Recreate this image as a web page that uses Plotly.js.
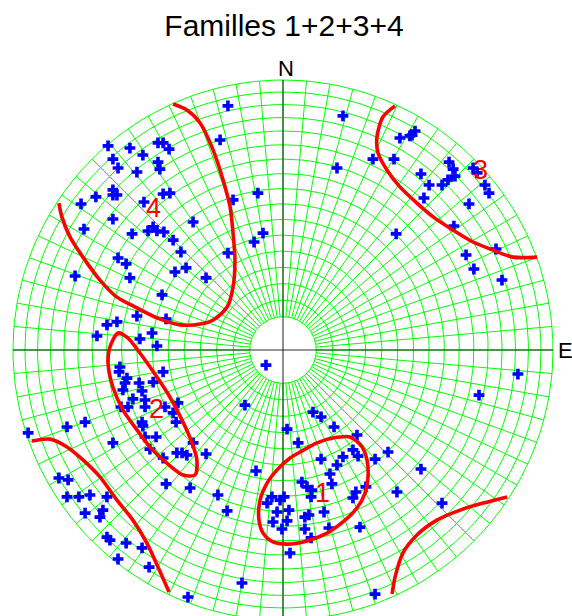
<!DOCTYPE html>
<html><head><meta charset="utf-8">
<script src="https://cdn.plot.ly/plotly-3.0.1.min.js"></script>
<style>html,body{margin:0;padding:0;background:#fff}#chart{width:572px;height:616px}</style>
</head><body><div id="chart"></div>
<script>
// Pole positions on the equal-area net (east, north), net radius = 1
const ptsX = [-0.204,-0.233,-0.093,-0.185,-0.074,-0.107,-0.204,-0.648,-0.567,-0.463,-0.444,-0.422,-0.630,-0.519,-0.463,-0.611,-0.456,-0.541,-0.630,-0.615,-0.630,-0.693,-0.748,-0.515,-0.444,-0.419,-0.333,-0.630,-0.737,-0.559,-0.5,-0.481,-0.467,-0.441,-0.407,-0.378,-0.611,-0.581,-0.770,-0.567,-0.359,-0.4,-0.285,-0.448,-0.541,-0.433,-0.652,-0.615,-0.485,-0.689,
 0.222,0.2,0.333,0.411,0.433,0.478,0.489,0.470,0.511,0.541,0.522,0.615,0.630,0.637,0.611,0.589,0.704,0.719,0.748,0.763,0.689,0.633,0.419,0.789,0.678,0.707,0.811,
 -0.530,-0.467,-0.604,-0.607,-0.578,-0.585,-0.533,-0.481,-0.444,-0.593,-0.522,-0.556,-0.511,-0.511,-0.574,-0.6,-0.437,-0.389,-0.407,-0.396,-0.522,-0.519,-0.511,-0.470,-0.493,-0.444,-0.393,-0.374,-0.356,-0.333,-0.285,-0.141,-0.063,-0.733,-0.8,-0.944,-0.630,-0.1,-0.433,-0.344,-0.241,-0.207,-0.830,-0.796,-0.8,-0.756,-0.715,-0.652,-0.667,-0.678,-0.733,-0.652,-0.641,-0.581,-0.522,-0.611,-0.496,-0.352,-0.152,
 0.015,0.870,0.726,0.111,0.141,0.189,0.056,0.274,0.259,0.278,0.222,0.2,0.141,0.341,0.389,0.511,0.174,0.181,0.070,0.089,0.107,0.104,0.004,-0.011,0.270,0.259,0.307,0.422,0.589,0.022,0.152,0.081,0.096,0.015,0.081,0.170,0.285,-0.004,0.104,0.026,0.341,-0.059,-0.041,-0.022,-0.037];
const ptsY = [0.904,0.778,0.581,0.556,0.433,0.400,0.359,0.756,0.748,0.767,0.767,0.744,0.707,0.722,0.696,0.674,0.670,0.659,0.593,0.574,0.574,0.567,0.541,0.548,0.578,0.581,0.474,0.485,0.448,0.430,0.441,0.456,0.441,0.437,0.407,0.363,0.341,0.319,0.274,0.267,0.304,0.289,0.267,0.204,0.126,0.115,0.093,0.104,0.063,0.052,
 0.867,0.674,0.707,0.707,0.785,0.796,0.811,0.793,0.652,0.611,0.563,0.696,0.670,0.644,0.630,0.611,0.674,0.656,0.611,0.581,0.541,0.459,0.430,0.374,0.352,0.3,0.259,
 0.041,0.015,-0.063,-0.081,-0.104,-0.122,-0.122,-0.119,-0.081,-0.148,-0.152,-0.181,-0.185,-0.211,-0.211,-0.211,-0.211,-0.196,-0.233,-0.267,-0.267,-0.281,-0.322,-0.322,-0.367,-0.4,-0.381,-0.381,-0.389,-0.344,-0.385,-0.204,-0.056,-0.267,-0.285,-0.307,-0.344,-0.448,-0.496,-0.511,-0.537,-0.596,-0.474,-0.481,-0.544,-0.544,-0.537,-0.544,-0.593,-0.619,-0.604,-0.693,-0.704,-0.715,-0.733,-0.774,-0.804,-0.915,-0.863,
 -0.293,-0.089,-0.167,-0.230,-0.248,-0.285,-0.344,-0.315,-0.370,-0.393,-0.396,-0.426,-0.404,-0.404,-0.378,-0.441,-0.459,-0.496,-0.489,-0.507,-0.519,-0.544,-0.544,-0.556,-0.526,-0.548,-0.507,-0.526,-0.567,-0.593,-0.6,-0.619,-0.611,-0.633,-0.663,-0.659,-0.656,-0.663,-0.696,-0.752,-0.904,-0.567,-0.544,-0.6,-0.637];

// Density contours (families)
const fam1X = [0.026,0.063,0.126,0.185,0.248,0.293,0.311,0.315,0.304,0.274,0.222,0.163,0.089,0.015,-0.037,-0.074,-0.089,-0.085,-0.059,-0.022,0.026];
const fam1Y = [-0.4,-0.378,-0.344,-0.326,-0.322,-0.359,-0.407,-0.470,-0.530,-0.585,-0.637,-0.678,-0.707,-0.719,-0.711,-0.678,-0.630,-0.556,-0.493,-0.444,-0.4];
const fam2X = [-0.611,-0.641,-0.648,-0.630,-0.593,-0.541,-0.493,-0.430,-0.370,-0.326,-0.319,-0.337,-0.374,-0.419,-0.467,-0.530,-0.574,-0.611];
const fam2Y = [0.063,0.011,-0.048,-0.137,-0.222,-0.296,-0.359,-0.419,-0.463,-0.463,-0.407,-0.344,-0.259,-0.174,-0.1,-0.011,0.044,0.063];
const fam3X = [0.415,0.370,0.348,0.352,0.385,0.433,0.496,0.556,0.630,0.704,0.778,0.852,0.941];
const fam3Y = [0.904,0.863,0.789,0.730,0.667,0.604,0.544,0.493,0.444,0.4,0.370,0.344,0.344];
const fam4X = [-0.830,-0.819,-0.789,-0.741,-0.678,-0.615,-0.541,-0.467,-0.381,-0.307,-0.259,-0.207,-0.185,-0.178,-0.185,-0.196,-0.222,-0.259,-0.307,-0.356,-0.407];
const fam4Y = [0.544,0.493,0.419,0.344,0.259,0.196,0.156,0.119,0.093,0.096,0.111,0.159,0.233,0.333,0.433,0.530,0.630,0.741,0.841,0.889,0.911];
const famSWX = [-0.930,-0.863,-0.8,-0.741,-0.678,-0.615,-0.556,-0.504,-0.463,-0.422];
const famSWY = [-0.337,-0.330,-0.359,-0.407,-0.470,-0.556,-0.630,-0.715,-0.804,-0.896];
const famSEX = [0.404,0.415,0.444,0.496,0.570,0.656,0.741,0.830];
const famSEY = [-0.904,-0.841,-0.752,-0.685,-0.630,-0.593,-0.567,-0.544];

const famLabels = ['1','2','3','4'];
const famLabelX = [0.148,-0.467,0.730,-0.478];
const famLabelY = [-0.530,-0.219,0.667,0.526];

const dirLabels = ['N','E'];
const dirLabelX = [0.011,1.011];
const dirLabelY = [1.041,0.0];

const titleText = 'Familles 1+2+3+4';
const ringDips = [10,15,20,25,30,35,40,45,50,55,60,65,70,75,80,85,90];
const spokeStep = 5;

// equal-area (Schmidt) radius for an angle from centre, net radius 1
function ea(d){ return Math.SQRT2*Math.sin(d*Math.PI/360); }

const gx=[], gy=[];
ringDips.forEach(d=>{
  const r=ea(d);
  for(let a=0;a<=360;a+=2){ gx.push(r*Math.sin(a*Math.PI/180)); gy.push(r*Math.cos(a*Math.PI/180)); }
  gx.push(null); gy.push(null);
});
const rIn = ea(ringDips[0]);
for(let a=0;a<360;a+=spokeStep){
  const s=Math.sin(a*Math.PI/180), c=Math.cos(a*Math.PI/180);
  gx.push(rIn*s, s, null); gy.push(rIn*c, c, null);
}

const traces = [
  {x:gx,y:gy,mode:'lines',line:{color:'#00ff00',width:1},hoverinfo:'skip',showlegend:false},
  {x:[0,0,null,-1,1],y:[1,-1,null,0,0],mode:'lines',line:{color:'rgba(0,0,0,0.55)',width:1.6},hoverinfo:'skip',showlegend:false},
  {x:ptsX,y:ptsY,mode:'markers',marker:{symbol:'cross',size:9,color:'#0000ff',line:{width:0}},showlegend:false}
];
[[fam1X,fam1Y],[fam2X,fam2Y],[fam3X,fam3Y],[fam4X,fam4Y],[famSWX,famSWY],[famSEX,famSEY]].forEach(f=>{
  traces.push({x:f[0],y:f[1],mode:'lines',line:{color:'#ff0000',width:3.6,shape:'spline',smoothing:0.8},showlegend:false,hoverinfo:'skip'});
});

const ann = [];
famLabels.forEach((t,i)=>ann.push({x:famLabelX[i],y:famLabelY[i],text:t,showarrow:false,font:{family:'Liberation Sans, Arial',size:27,color:'#ff0000'},xanchor:'center',yanchor:'middle'}));
dirLabels.forEach((t,i)=>ann.push({x:dirLabelX[i],y:dirLabelY[i],text:t,showarrow:false,font:{family:'Liberation Sans, Arial',size:22,color:'#000'},xanchor:i===0?'center':'left',yanchor:'middle'}));

const W=572,H=616,cx=283,cy=350,R=270;
const layout = {
  width:W,height:H,margin:{l:0,r:0,t:0,b:0},
  paper_bgcolor:'#fff',plot_bgcolor:'#fff',
  title:{text:titleText,x:284/W,xref:'container',xanchor:'center',y:1-25/H,yref:'container',yanchor:'middle',font:{family:'Liberation Sans, Arial',size:30,color:'#000'}},
  xaxis:{range:[-cx/R,(W-cx)/R],visible:false,showgrid:false,zeroline:false,fixedrange:true},
  yaxis:{range:[-(H-cy)/R,cy/R],visible:false,showgrid:false,zeroline:false,fixedrange:true},
  annotations:ann,showlegend:false
};
Plotly.newPlot('chart',traces,layout,{displayModeBar:false,staticPlot:true});
</script></body></html>
